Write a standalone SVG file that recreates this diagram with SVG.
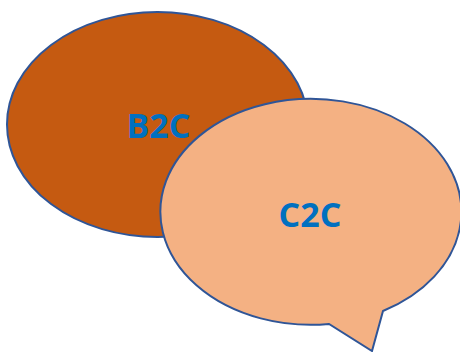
<svg xmlns="http://www.w3.org/2000/svg" width="460" height="352" viewBox="0 0 460 352">
<style>
.shape{stroke:#2F5597;stroke-width:2;stroke-linejoin:miter}
.lbl{font-family:"Open Sans","Liberation Sans",sans-serif;font-weight:bold;font-size:34px;fill:#0070C0;text-anchor:middle}
</style>
<rect width="460" height="352" fill="#FFFFFF"/>
<g id="b2c">
<ellipse class="shape" cx="157.5" cy="124.5" rx="150.5" ry="112.5" fill="#C55A11"/>
<text class="lbl" x="158.5" y="138">B2C</text>
</g>
<g id="c2c">
<path class="shape" fill="#F4B183" d="M329,324 A150.5,113 0 1 1 383,311 L372,351 Z"/>
<text class="lbl" x="310" y="227">C2C</text>
</g>
<g id="connectors"/>
</svg>
